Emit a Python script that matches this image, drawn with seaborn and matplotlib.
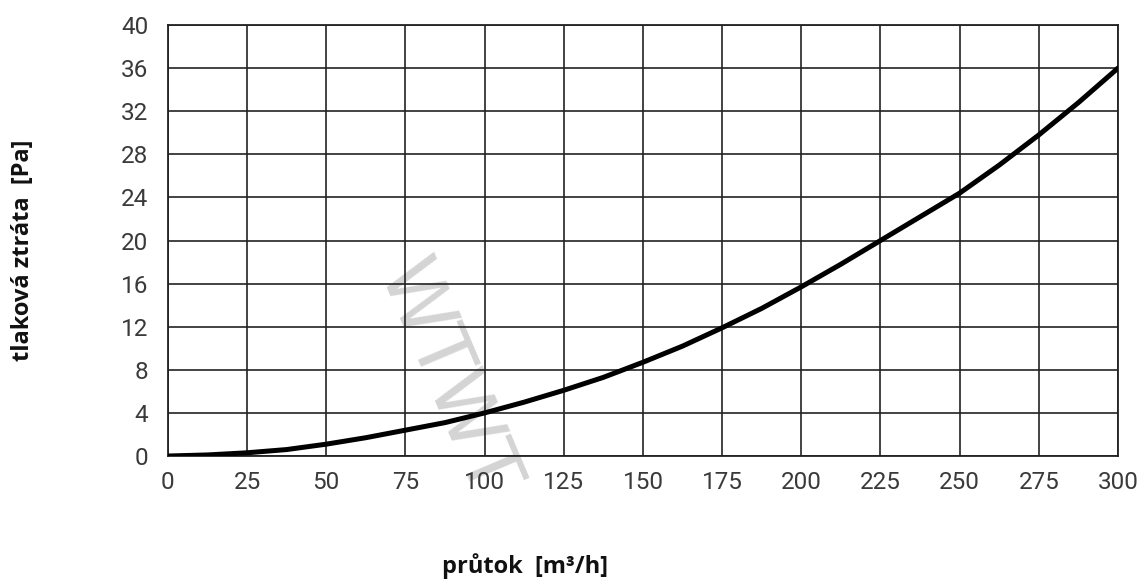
import numpy as np
import pandas as pd
import matplotlib
matplotlib.use('Agg')
import matplotlib.pyplot as plt
import seaborn as sb

# values
flow = [0, 12.5, 25, 37.5, 50, 62.5, 75, 87.5, 100, 112.5, 125, 137.5, 150,
        162.5, 175, 187.5, 200, 212.5, 225, 237.5, 250, 262.5, 275, 287.5, 300]
loss = [0.0, 0.1, 0.3, 0.6, 1.1, 1.7, 2.4, 3.1, 4.0, 5.0, 6.1, 7.3, 8.7,
        10.2, 11.9, 13.7, 15.7, 17.8, 20.0, 22.2, 24.4, 27.0, 29.8, 32.8, 36.0]
x_ticks = list(range(0, 301, 25))
y_ticks = list(range(0, 41, 4))

sb.set_style('white')
plt.rcParams['font.family'] = ['Roboto', 'DejaVu Sans']

df = pd.DataFrame({'flow': flow, 'loss': loss})

fig = plt.figure(figsize=(11.42, 5.79), dpi=100)
ax = fig.add_axes([0.147, 0.2124, 0.832, 0.7444])

sb.lineplot(data=df, x='flow', y='loss', ax=ax, color='black', linewidth=3.6, zorder=3)

ax.set_xlim(0, 300)
ax.set_ylim(0, 40)
ax.set_xticks(x_ticks)
ax.set_yticks(y_ticks)
ax.set_axisbelow(True)
ax.grid(True, color='#222222', linewidth=1.2)
for s in ax.spines.values():
    s.set_visible(True)
    s.set_color('#222222')
    s.set_linewidth(1.3)
ax.tick_params(axis='both', length=0, labelsize=17.5, labelcolor='#3a3a3a')
ax.tick_params(axis='y', pad=14)
ax.tick_params(axis='x', pad=11)
ax.set_xlabel('')
ax.set_ylabel('')

# watermark
ax.text(88, 7.2, 'WTWT', rotation=-67, fontsize=56, color='#d4d4d4',
        ha='center', va='center', zorder=0.2, family='DejaVu Sans')

fig.text(23 / 1142, 1 - 250 / 579, 'tlaková ztráta  [Pa]', rotation=90,
         ha='center', va='center', fontsize=17, fontweight='bold',
         family=['Open Sans', 'DejaVu Sans'], color='#111111')
fig.text(525 / 1142, 1 - 566 / 579, 'průtok  [m³/h]', ha='center', va='center',
         fontsize=17, fontweight='bold', family=['Open Sans', 'DejaVu Sans'],
         color='#111111')

fig.savefig('out.png', dpi=100)
